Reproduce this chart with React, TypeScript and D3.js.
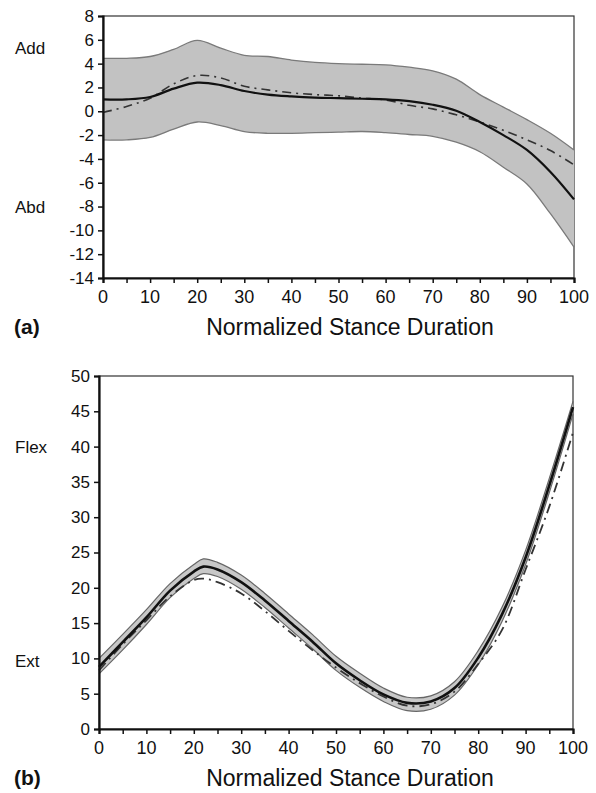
import { useEffect, useRef } from 'react';
import * as d3 from 'd3';

// panel (a): adduction / abduction
const stanceA = [0, 5, 10, 15, 20, 25, 30, 35, 40, 45, 50, 55, 60, 65, 70, 75, 80, 85, 90, 95, 100];
const meanA = [1.0, 1.0, 1.2, 1.9, 2.4, 2.2, 1.7, 1.4, 1.25, 1.15, 1.1, 1.05, 1.0, 0.85, 0.55, 0.05, -0.9, -2.0, -3.25, -5.1, -7.4];
const otherA = [-0.1, 0.4, 1.1, 2.3, 3.0, 2.8, 2.1, 1.8, 1.55, 1.4, 1.3, 1.1, 0.95, 0.5, 0.2, -0.3, -0.9, -1.6, -2.4, -3.3, -4.5];
const upperA = [4.45, 4.45, 4.6, 5.2, 5.95, 5.3, 4.7, 4.6, 4.3, 4.1, 4.0, 3.95, 3.9, 3.7, 3.4, 2.7, 1.4, 0.35, -0.7, -1.85, -3.25];
const lowerA = [-2.4, -2.4, -2.2, -1.5, -0.9, -1.2, -1.7, -1.85, -1.85, -1.8, -1.75, -1.7, -1.8, -1.95, -2.1, -2.6, -3.4, -4.7, -6.1, -8.6, -11.4];
const yTicksA = [8, 6, 4, 2, 0, -2, -4, -6, -8, -10, -12, -14];

// panel (b): flexion / extension
const stanceB = [0, 5, 10, 15, 20, 22, 25, 30, 35, 40, 45, 50, 55, 60, 65, 70, 75, 80, 85, 90, 95, 100];
const meanB = [8.8, 12.3, 15.8, 19.6, 22.3, 23.0, 22.6, 20.8, 18.2, 15.3, 12.4, 9.3, 6.9, 4.9, 3.7, 3.9, 5.8, 10.1, 16.2, 24.3, 34.5, 45.6];
const otherB = [8.3, 12.0, 15.4, 18.8, 21.1, 21.3, 20.8, 19.2, 16.7, 13.9, 11.2, 8.7, 6.5, 4.6, 3.3, 3.5, 5.3, 9.2, 14.0, 22.6, 31.5, 42.0];
const upperB = [10.0, 13.4, 16.9, 20.6, 23.3, 24.1, 23.6, 21.8, 19.2, 16.3, 13.4, 10.3, 7.9, 5.8, 4.5, 4.7, 6.7, 11.1, 17.2, 25.3, 35.5, 46.4];
const lowerB = [7.8, 11.2, 14.8, 18.6, 21.3, 22.0, 21.6, 19.8, 17.2, 14.3, 11.4, 8.3, 5.9, 3.9, 2.6, 2.8, 4.8, 9.1, 15.2, 23.3, 33.5, 44.6];
const yTicksB = [50, 45, 40, 35, 30, 25, 20, 15, 10, 5, 0];

const xLabels = [0, 10, 20, 30, 40, 50, 60, 70, 80, 90, 100];
const xMinor = [0, 5, 10, 15, 20, 25, 30, 35, 40, 45, 50, 55, 60, 65, 70, 75, 80, 85, 90, 95, 100];

const FONT = 'Liberation Sans, Arial, sans-serif';

function drawPanel(root, o) {
  const g = root.append('g');
  const x = d3.scaleLinear().domain([0, 100]).range([o.left, o.right]);
  const y = d3.scaleLinear().domain(o.yDomain).range([o.bottom, o.top]);

  // frame (top and right)
  g.append('rect')
    .attr('x', o.left).attr('y', o.top)
    .attr('width', o.right - o.left).attr('height', o.bottom - o.top)
    .attr('fill', 'white').attr('stroke', '#333').attr('stroke-width', 1.2);

  const pts = o.xs.map((v, i) => ({ x: v, m: o.mean[i], d: o.other[i], u: o.upper[i], l: o.lower[i] }));
  const curve = d3.curveCatmullRom.alpha(0.5);

  const area = d3.area()
    .x(d => x(d.x)).y0(d => y(d.l)).y1(d => y(d.u))
    .curve(curve);
  g.append('path').datum(pts).attr('d', area)
    .attr('fill', o.bandFill).attr('stroke', 'none');

  const edge = key => d3.line().x(d => x(d.x)).y(d => y(d[key])).curve(curve);
  ['u', 'l'].forEach(k => {
    g.append('path').attr('d', edge(k)(pts))
      .attr('fill', 'none').attr('stroke', o.bandStroke).attr('stroke-width', o.bandStrokeW);
  });

  g.append('path').attr('d', edge('d')(pts))
    .attr('fill', 'none').attr('stroke', '#333').attr('stroke-width', o.dashW)
    .attr('stroke-dasharray', o.dash);

  g.append('path').attr('d', edge('m')(pts))
    .attr('fill', 'none').attr('stroke', '#111').attr('stroke-width', o.meanW);

  // y axis
  const ya = g.append('g').attr('transform', `translate(${o.left},0)`)
    .call(d3.axisLeft(y).tickValues(o.yTicks).tickSize(5).tickPadding(4));
  ya.select('.domain').attr('stroke', '#111').attr('stroke-width', 2.2);
  ya.selectAll('.tick line').attr('stroke', '#111').attr('stroke-width', 1.5);
  ya.selectAll('text').attr('font-family', FONT).attr('font-size', 17).attr('fill', '#111')
    .text(d => d < 0 ? `-${-d}` : d);

  // x axis
  const xa = g.append('g').attr('transform', `translate(0,${o.bottom})`)
    .call(d3.axisBottom(x).tickValues(xMinor).tickSize(5).tickFormat(''));
  xa.select('.domain').attr('stroke', '#111').attr('stroke-width', 2.2);
  xa.selectAll('.tick line').attr('stroke', '#111').attr('stroke-width', 1.5);

  g.selectAll('text.xl').data(xLabels).enter().append('text')
    .attr('class', 'xl')
    .attr('x', d => x(d)).attr('y', o.bottom + 25)
    .attr('text-anchor', 'middle')
    .attr('font-family', FONT).attr('font-size', 18).attr('fill', '#111')
    .text(d => d);

  // side labels
  o.sideLabels.forEach(s => {
    g.append('text').attr('x', 15).attr('y', y(s.at) + 6)
      .attr('font-family', FONT).attr('font-size', 17).attr('fill', '#111')
      .text(s.text);
  });

  g.append('text').attr('x', 14).attr('y', o.bottom + 56)
    .attr('font-family', FONT).attr('font-size', 21).attr('font-weight', 'bold').attr('fill', '#111')
    .text(o.tag);

  g.append('text').attr('x', 350).attr('y', o.bottom + 57)
    .attr('text-anchor', 'middle')
    .attr('font-family', FONT).attr('font-size', 23).attr('fill', '#111')
    .text('Normalized Stance Duration');
}

export default function App() {
  const svgRef = useRef(null);

  useEffect(() => {
    const svg = d3.select(svgRef.current);
    svg.selectAll('*').remove();

    drawPanel(svg, {
      left: 103, right: 574, top: 16, bottom: 278,
      yDomain: [-14, 8], yTicks: yTicksA,
      xs: stanceA, mean: meanA, other: otherA, upper: upperA, lower: lowerA,
      bandFill: '#c2c2c2', bandStroke: '#7a7a7a', bandStrokeW: 1.3,
      meanW: 2.2, dashW: 1.6, dash: '9,5,2,5',
      sideLabels: [{ text: 'Add', at: 5.3 }, { text: 'Abd', at: -8 }],
      tag: '(a)'
    });

    drawPanel(svg, {
      left: 99, right: 573, top: 376, bottom: 729,
      yDomain: [0, 50], yTicks: yTicksB,
      xs: stanceB, mean: meanB, other: otherB, upper: upperB, lower: lowerB,
      bandFill: '#c8c8c8', bandStroke: '#666', bandStrokeW: 1.2,
      meanW: 2.6, dashW: 1.8, dash: '10,5,2,5',
      sideLabels: [{ text: 'Flex', at: 40 }, { text: 'Ext', at: 9.6 }],
      tag: '(b)'
    });
  }, []);

  return (
    <svg ref={svgRef} width={596} height={793}
      style={{ position: 'absolute', left: 0, top: 0, background: 'white' }} />
  );
}
